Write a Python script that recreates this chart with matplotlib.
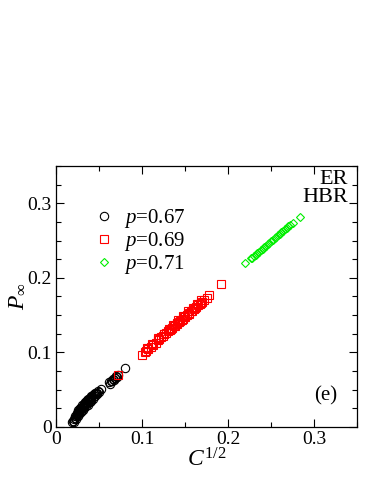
import matplotlib
matplotlib.use("Agg")
import matplotlib.pyplot as plt
from matplotlib.ticker import MultipleLocator

plt.rcParams['font.family'] = ['Liberation Serif', 'DejaVu Serif']
plt.rcParams['mathtext.fontset'] = 'custom'
plt.rcParams['mathtext.rm'] = 'Liberation Serif'
plt.rcParams['mathtext.it'] = 'Liberation Serif:italic'

labels = ["0.67", "0.69", "0.71"]

x067 = [0.019, 0.020, 0.021, 0.022, 0.022, 0.023, 0.024, 0.024, 0.025, 0.026, 0.026, 0.027,
        0.028, 0.028, 0.029, 0.030, 0.030, 0.031, 0.032, 0.032, 0.033, 0.034, 0.034, 0.035,
        0.036, 0.036, 0.037, 0.038, 0.039, 0.040, 0.041, 0.042, 0.043, 0.044, 0.045, 0.046,
        0.047, 0.049, 0.052, 0.062, 0.064, 0.066, 0.068, 0.070, 0.072, 0.080,
        0.021, 0.023, 0.025, 0.027, 0.029, 0.031, 0.033, 0.035, 0.037, 0.039, 0.041, 0.043,
        0.024, 0.026, 0.028, 0.030, 0.032, 0.034, 0.036, 0.038, 0.040, 0.045, 0.047, 0.050,
        0.063, 0.065, 0.067, 0.069, 0.071]
y067 = [0.006, 0.008, 0.010, 0.012, 0.014, 0.015, 0.016, 0.018, 0.019, 0.020, 0.022, 0.022,
        0.024, 0.025, 0.026, 0.027, 0.029, 0.028, 0.030, 0.031, 0.031, 0.032, 0.034, 0.034,
        0.035, 0.036, 0.037, 0.038, 0.039, 0.040, 0.041, 0.042, 0.043, 0.044, 0.045, 0.046,
        0.046, 0.048, 0.051, 0.060, 0.062, 0.064, 0.066, 0.068, 0.070, 0.079,
        0.007, 0.011, 0.014, 0.017, 0.020, 0.023, 0.025, 0.028, 0.030, 0.033, 0.035, 0.038,
        0.017, 0.019, 0.022, 0.024, 0.027, 0.029, 0.032, 0.034, 0.037, 0.041, 0.044, 0.047,
        0.058, 0.061, 0.063, 0.065, 0.067]

x069 = [0.072, 0.100, 0.103, 0.105, 0.107, 0.110, 0.113, 0.116, 0.118, 0.120, 0.122, 0.124,
        0.126, 0.128, 0.130, 0.132, 0.134, 0.135, 0.137, 0.138, 0.140, 0.141, 0.143, 0.144,
        0.146, 0.147, 0.149, 0.150, 0.152, 0.154, 0.155, 0.157, 0.158, 0.160, 0.162, 0.163,
        0.165, 0.167, 0.168, 0.170, 0.172, 0.175, 0.178, 0.192,
        0.106, 0.112, 0.119, 0.125, 0.131, 0.136, 0.142, 0.148, 0.153, 0.159, 0.164, 0.169]
y069 = [0.069, 0.097, 0.100, 0.102, 0.104, 0.107, 0.110, 0.113, 0.116, 0.118, 0.120, 0.122,
        0.124, 0.126, 0.128, 0.130, 0.132, 0.133, 0.135, 0.136, 0.138, 0.139, 0.141, 0.142,
        0.144, 0.145, 0.147, 0.148, 0.150, 0.152, 0.153, 0.155, 0.156, 0.158, 0.160, 0.161,
        0.163, 0.165, 0.166, 0.168, 0.170, 0.173, 0.177, 0.192,
        0.106, 0.111, 0.119, 0.125, 0.131, 0.137, 0.143, 0.149, 0.155, 0.160, 0.165, 0.170]

x071 = [0.220, 0.226, 0.228, 0.230, 0.232, 0.234, 0.236, 0.238, 0.240, 0.242, 0.244, 0.246,
        0.248, 0.250, 0.252, 0.254, 0.256, 0.258, 0.260, 0.262, 0.264, 0.266, 0.268, 0.270,
        0.272, 0.275, 0.283]
y071 = [0.220, 0.226, 0.227, 0.229, 0.231, 0.233, 0.235, 0.237, 0.239, 0.241, 0.243, 0.245,
        0.247, 0.249, 0.251, 0.253, 0.255, 0.257, 0.259, 0.261, 0.263, 0.265, 0.267, 0.269,
        0.271, 0.274, 0.282]

fig = plt.figure(figsize=(3.74, 4.84), dpi=100)
ax = fig.add_axes([0.150, 0.118, 0.805, 0.539])

mew = 0.8
ax.plot(x067, y067, 'o', ls='none', mfc='none', mec='black', ms=6.0, mew=mew,
        label=r'$p$=' + labels[0])
ax.plot(x069, y069, 's', ls='none', mfc='none', mec='#ff0000', ms=5.5, mew=mew,
        label=r'$p$=' + labels[1])
ax.plot(x071, y071, 'D', ls='none', mfc='none', mec='#00ee00', ms=4.5, mew=mew,
        label=r'$p$=' + labels[2])

ax.set_xlim(0, 0.35)
ax.set_ylim(0, 0.35)
ax.xaxis.set_minor_locator(MultipleLocator(0.05))
ax.yaxis.set_minor_locator(MultipleLocator(0.025))
ax.set_xticks([0, 0.1, 0.2, 0.3])
ax.set_xticklabels(['0', '0.1', '0.2', '0.3'])
ax.set_yticks([0, 0.1, 0.2, 0.3])
ax.set_yticklabels(['0', '0.1', '0.2', '0.3'])
ax.tick_params(which='both', direction='in', top=True, right=True, labelsize=14, pad=3)
ax.tick_params(which='major', length=6, width=0.8)
ax.tick_params(which='minor', length=3.5, width=0.8)
for s in ax.spines.values():
    s.set_linewidth(0.9)

ax.set_xlabel(r'$C^{\mathit{1/2}}$', fontsize=17, labelpad=0)
ax.set_ylabel(r'$P_{\infty}$', fontsize=17, labelpad=0)

leg = ax.legend(loc='upper left', bbox_to_anchor=(0.097, 0.875), frameon=False, fontsize=15,
                handletextpad=0.45, labelspacing=0.0, handlelength=1.0, borderaxespad=0)

ax.text(0.97, 0.985, 'ER\nHBR', transform=ax.transAxes, ha='right', va='top',
        fontsize=16, linespacing=0.9)
ax.text(0.935, 0.12, '(e)', transform=ax.transAxes, ha='right', va='center', fontsize=15)

fig.savefig('out.png', dpi=100)
